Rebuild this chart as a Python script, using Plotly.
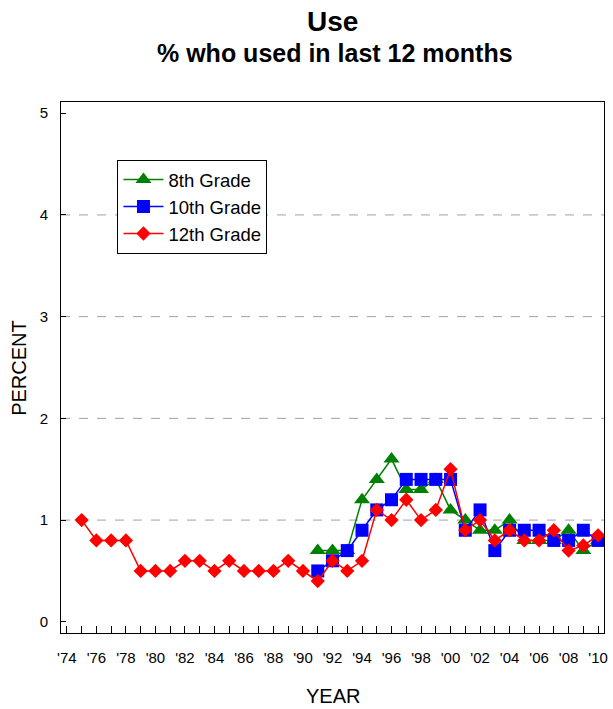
import plotly.graph_objects as go

# ---- data ----
years_12 = list(range(1975, 2011))
use_12 = [1.0, 0.8, 0.8, 0.8, 0.5, 0.5, 0.5, 0.6, 0.6, 0.5, 0.6, 0.5, 0.5, 0.5, 0.6, 0.5,
          0.4, 0.6, 0.5, 0.6, 1.1, 1.0, 1.2, 1.0, 1.1, 1.5, 0.9, 1.0, 0.8, 0.9, 0.8, 0.8,
          0.9, 0.7, 0.75, 0.85]
years_8_10 = list(range(1991, 2011))
use_8 = [0.7, 0.7, 0.7, 1.2, 1.4, 1.6, 1.3, 1.3, 1.4, 1.1, 1.0, 0.9, 0.9, 1.0, 0.8, 0.8,
         0.8, 0.9, 0.7, 0.8]
use_10 = [0.5, 0.6, 0.7, 0.9, 1.1, 1.2, 1.4, 1.4, 1.4, 1.4, 0.9, 1.1, 0.7, 0.9, 0.9, 0.9,
          0.8, 0.8, 0.9, 0.8]

tick_years = list(range(1974, 2011))
tick_labels = [("'%02d" % (y % 100)) if y % 2 == 0 else "" for y in tick_years]
y_ticks = [0, 1, 2, 3, 4, 5]
grid_values = [1, 2, 3, 4]

FONT = "Liberation Sans, Arial, sans-serif"

fig = go.Figure()
fig.add_trace(go.Scatter(
    x=years_8_10, y=use_8, name="8th Grade", mode="lines+markers",
    line=dict(color="#008000", width=1.5),
    marker=dict(symbol="triangle-up", size=14, color="#008000")))
fig.add_trace(go.Scatter(
    x=years_8_10, y=use_10, name="10th Grade", mode="lines+markers",
    line=dict(color="#0000FF", width=1.5),
    marker=dict(symbol="square", size=13, color="#0000FF")))
fig.add_trace(go.Scatter(
    x=years_12, y=use_12, name="12th Grade", mode="lines+markers",
    line=dict(color="#FF0000", width=1.5),
    marker=dict(symbol="diamond", size=11, color="#FF0000")))

for g in grid_values:
    fig.add_shape(type="line", xref="paper", x0=0, x1=1, yref="y", y0=g, y1=g,
                  line=dict(color="#A0A0A0", width=1, dash="dash"), layer="below")

fig.update_layout(
    width=613, height=709,
    margin=dict(l=61, r=5, t=102, b=76),
    paper_bgcolor="white", plot_bgcolor="white",
    font=dict(family=FONT, color="black"),
    showlegend=True,
    legend=dict(x=0.104, y=0.891, xanchor="left", yanchor="top",
                bordercolor="black", borderwidth=1, bgcolor="white",
                font=dict(size=18.5, family=FONT), tracegroupgap=0, itemwidth=40,
                entrywidth=145, entrywidthmode="pixels"),
    xaxis=dict(range=[1973.6, 2010.4], tickmode="array", tickvals=tick_years,
               ticktext=tick_labels, ticks="inside", ticklen=7, tickcolor="black",
               showline=True, linecolor="black", linewidth=1, mirror=True,
               showgrid=False, zeroline=False, tickfont=dict(size=15),
               ticklabelstandoff=11),
    yaxis=dict(range=[-0.11, 5.11], tickmode="array", tickvals=y_ticks,
               ticks="inside", ticklen=5, tickcolor="black",
               showline=True, linecolor="black", linewidth=1, mirror=True,
               showgrid=False, zeroline=False, tickfont=dict(size=15),
               ticklabelstandoff=9),
    annotations=[
        dict(text="<b>Use</b>", xref="paper", yref="paper", x=0.5, y=1.1507,
             xanchor="center", yanchor="middle", showarrow=False,
             font=dict(size=28, family=FONT)),
        dict(text="<b>% who used in last 12 months</b>", xref="paper", yref="paper",
             x=0.505, y=1.0923, xanchor="center", yanchor="middle", showarrow=False,
             font=dict(size=25, family=FONT)),
        dict(text="PERCENT", xref="paper", yref="paper", x=-0.0786, y=0.5,
             xanchor="center", yanchor="middle", textangle=-90, showarrow=False,
             font=dict(size=20, family=FONT)),
        dict(text="YEAR", xref="paper", yref="paper", x=0.5, y=-0.1186,
             xanchor="center", yanchor="middle", showarrow=False,
             font=dict(size=20, family=FONT)),
    ],
)

fig.write_html("out.html", config={"displayModeBar": False},
               post_script="document.body.style.margin='0';document.body.style.padding='0';")
